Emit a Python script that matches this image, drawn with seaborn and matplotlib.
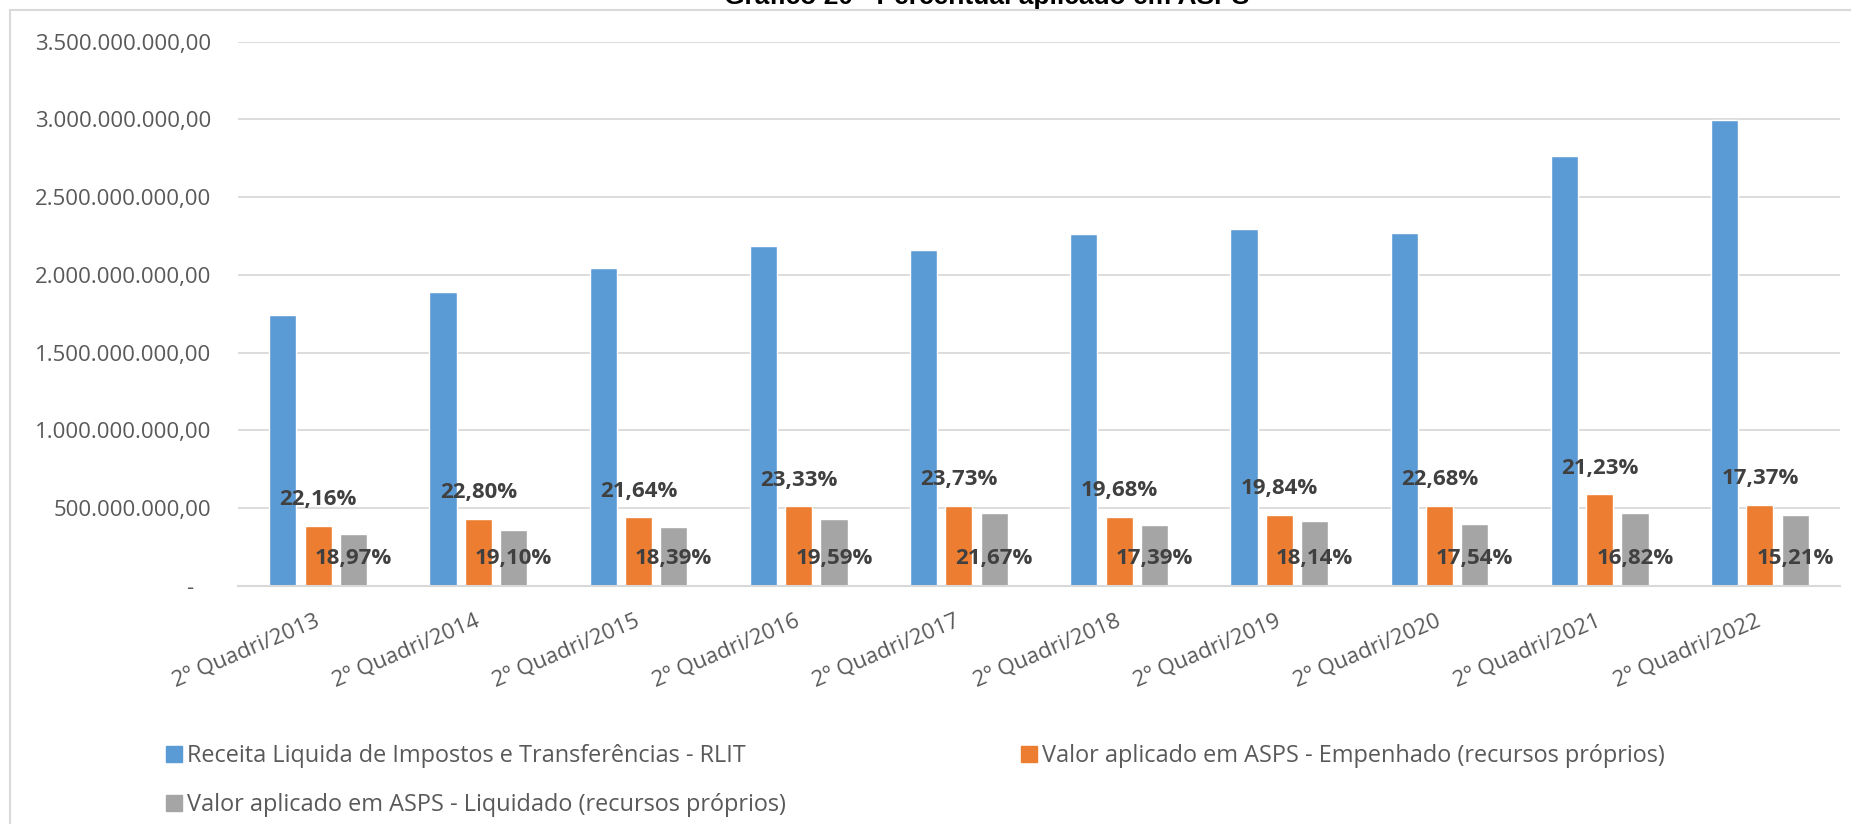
import numpy as np
import pandas as pd
import seaborn as sns
import matplotlib.pyplot as plt
from matplotlib.patches import Patch, Rectangle
from matplotlib.ticker import FuncFormatter

W, H = 1851, 824

periodos = ["2º Quadri/2013", "2º Quadri/2014", "2º Quadri/2015", "2º Quadri/2016",
            "2º Quadri/2017", "2º Quadri/2018", "2º Quadri/2019", "2º Quadri/2020",
            "2º Quadri/2021", "2º Quadri/2022"]
series = ["Receita Liquida de Impostos e Transferências - RLIT",
          "Valor aplicado em ASPS - Empenhado (recursos próprios)",
          "Valor aplicado em ASPS - Liquidado (recursos próprios)"]

# valores (R$)
rlit = [1.741e9, 1.891e9, 2.043e9, 2.184e9, 2.163e9, 2.262e9, 2.292e9, 2.270e9, 2.763e9, 2.997e9]
empenhado = [0.386e9, 0.431e9, 0.442e9, 0.510e9, 0.513e9, 0.445e9, 0.455e9, 0.515e9, 0.587e9, 0.521e9]
liquidado = [0.330e9, 0.361e9, 0.376e9, 0.428e9, 0.469e9, 0.393e9, 0.416e9, 0.398e9, 0.465e9, 0.456e9]

pct_emp = ["22,16%", "22,80%", "21,64%", "23,33%", "23,73%", "19,68%", "19,84%", "22,68%", "21,23%", "17,37%"]
pct_liq = ["18,97%", "19,10%", "18,39%", "19,59%", "21,67%", "17,39%", "18,14%", "17,54%", "16,82%", "15,21%"]

cores = ["#5B9BD5", "#ED7D31", "#A5A5A5"]

df = pd.DataFrame({
    "periodo": periodos * 3,
    "serie": [s for s in series for _ in periodos],
    "valor": rlit + empenhado + liquidado,
})


def fmt_br(v, pos):
    if abs(v) < 1:
        return "-   "
    s = f"{v:,.2f}"
    return s.replace(",", "#").replace(".", ",").replace("#", ".")


sns.set_theme(style="white")
plt.rcParams["font.family"] = ["Open Sans", "DejaVu Sans"]

fig = plt.figure(figsize=(W / 100, H / 100), dpi=100)
ax = fig.add_axes([238 / W, 1 - 585.7 / H, (1840 - 238) / W, (585.7 - 41.7) / H])

sns.barplot(data=df, x="periodo", y="valor", hue="serie", palette=cores,
            width=0.66, gap=0.23, saturation=1, legend=False, ax=ax)

ax.set_ylim(0, 3.5e9)
ax.set_yticks(np.arange(0, 3.5e9 + 1, 5e8))
ax.yaxis.set_major_formatter(FuncFormatter(fmt_br))
ax.yaxis.grid(True, color="#D9D9D9", lw=1.3)
ax.set_axisbelow(True)
for side in ["top", "right", "left"]:
    ax.spines[side].set_visible(False)
ax.spines["bottom"].set_color("#D9D9D9")
ax.spines["bottom"].set_linewidth(1.5)
ax.set_xlabel("")
ax.set_ylabel("")

ax.tick_params(axis="y", length=0, pad=19.5, labelsize=16, labelcolor="#595959")
ax.tick_params(axis="x", length=0, pad=24.5, labelsize=16, labelcolor="#595959")
for lbl in ax.get_xticklabels():
    lbl.set_rotation(23)
    lbl.set_ha("right")
    lbl.set_va("center")
    lbl.set_rotation_mode("anchor")

# rotulos de percentual
for bar, txt in zip(ax.containers[1], pct_emp):
    ax.annotate(txt, (bar.get_x() + bar.get_width() / 2, bar.get_height()),
                xytext=(0, 26 * 0.72), textcoords="offset points",
                ha="center", va="center", fontsize=16, weight="bold", color="#404040")
for bar, txt in zip(ax.containers[2], pct_liq):
    ax.annotate(txt, (bar.get_x() + bar.get_width() / 2, 0),
                xytext=(0, 27 * 0.72), textcoords="offset points",
                ha="center", va="center", fontsize=16, weight="bold", color="#404040")

# legenda
pos_leg = [(166, 756), (1021, 756), (166, 805)]
for (lx, ly), cor, nome in zip(pos_leg, cores, series):
    fig.legend(handles=[Patch(color=cor)], labels=[nome], loc="center left",
               bbox_to_anchor=(lx / W, 1 - ly / H), frameon=False, fontsize=16.9,
               handlelength=0.68, handleheight=0.68, handletextpad=0.2,
               borderpad=0, borderaxespad=0, labelcolor="#595959")

# moldura e titulo (cortado no topo)
fig.patches.append(Rectangle((10 / W, -0.1), 1.2, 1 - 10 / H + 0.1, transform=fig.transFigure,
                             fill=False, ec="#D9D9D9", lw=1.5))
fig.text(987 / W, 1 - 4 / H, "Gráfico 20 - Percentual aplicado em ASPS", ha="center",
         va="baseline", fontsize=19, weight="bold", family="Liberation Sans", color="black")

fig.savefig("out.png", dpi=100)
